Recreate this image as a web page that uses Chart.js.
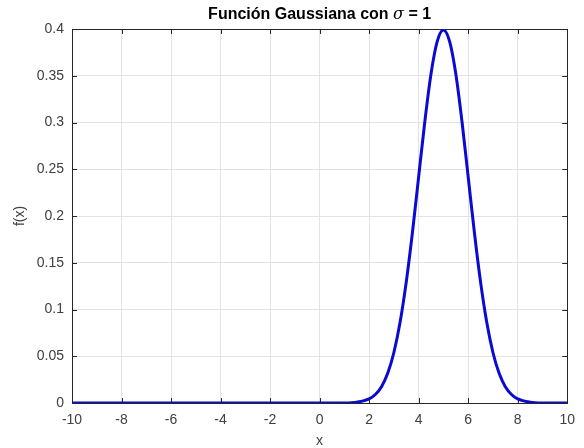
<!DOCTYPE html>
<html lang="es">
<head>
    <meta charset="UTF-8">
    <title>Función Gaussiana</title>
    <script src="https://cdn.jsdelivr.net/npm/chart.js"></script>
    <style>
        body { margin: 0; background: #ffffff; }
        #wrap { width: 584px; height: 448px; }
    </style>
</head>
<body>
    <div id="wrap"><canvas id="gauss" width="584" height="448"></canvas></div>

    <script>
        // valores
        const xValues = [-10, -8, -6, -4, -2, 0, 1, 1.5, 2, 2.25, 2.5, 2.75, 3, 3.25, 3.5, 3.75, 4, 4.25, 4.5, 4.75,
                         5, 5.25, 5.5, 5.75, 6, 6.25, 6.5, 6.75, 7, 7.25, 7.5, 7.75, 8, 8.5, 9, 10];
        const fValues = [0, 0, 0, 0, 0, 0, 0.0001, 0.0009, 0.0044, 0.0091, 0.0175, 0.0317, 0.054, 0.0863, 0.1295, 0.1826, 0.242, 0.3011, 0.3521, 0.3867,
                         0.3989, 0.3867, 0.3521, 0.3011, 0.242, 0.1826, 0.1295, 0.0863, 0.054, 0.0317, 0.0175, 0.0091, 0.0044, 0.0009, 0.0001, 0];
        const xTicks = [-10, -8, -6, -4, -2, 0, 2, 4, 6, 8, 10];
        const yTicks = [0, 0.05, 0.1, 0.15, 0.2, 0.25, 0.3, 0.35, 0.4];

        const axisColor = '#262626';
        const labelColor = '#404040';

        // caja y marcas hacia adentro (estilo MATLAB) + título con sigma en cursiva
        const matlabBox = {
            id: 'matlabBox',
            beforeDatasetsDraw(chart) {
                const { ctx, chartArea: a, scales } = chart;
                ctx.save();
                ctx.strokeStyle = axisColor;
                ctx.lineWidth = 1;
                ctx.beginPath();
                scales.x.ticks.forEach(t => {
                    const px = Math.round(scales.x.getPixelForValue(t.value)) + 0.5;
                    ctx.moveTo(px, a.bottom); ctx.lineTo(px, a.bottom - 5);
                    ctx.moveTo(px, a.top); ctx.lineTo(px, a.top + 5);
                });
                scales.y.ticks.forEach(t => {
                    const py = Math.round(scales.y.getPixelForValue(t.value)) + 0.5;
                    ctx.moveTo(a.left, py); ctx.lineTo(a.left + 5, py);
                    ctx.moveTo(a.right, py); ctx.lineTo(a.right - 5, py);
                });
                ctx.stroke();
                ctx.strokeRect(Math.round(a.left) + 0.5, Math.round(a.top) + 0.5,
                    Math.round(a.right - a.left), Math.round(a.bottom - a.top));
                ctx.restore();
            },
            afterDraw(chart) {
                const { ctx, chartArea: a } = chart;
                const parts = [
                    { text: 'Función Gaussiana con ', font: 'bold 16px "Liberation Sans", Arial, sans-serif' },
                    { text: 'σ', font: 'italic 16px "DejaVu Serif", serif' },
                    { text: ' = 1', font: 'bold 16px "Liberation Sans", Arial, sans-serif' }
                ];
                ctx.save();
                ctx.fillStyle = '#000000';
                ctx.textBaseline = 'middle';
                let total = 0;
                parts.forEach(p => { ctx.font = p.font; p.w = ctx.measureText(p.text).width; total += p.w; });
                let x = (a.left + a.right) / 2 - total / 2;
                parts.forEach(p => { ctx.font = p.font; ctx.fillText(p.text, x, 15); x += p.w; });
                ctx.restore();
            }
        };

        const tickFont = { family: '"Liberation Sans", Arial, sans-serif', size: 14 };

        new Chart(document.getElementById('gauss'), {
            type: 'line',
            data: {
                datasets: [{
                    data: xValues.map((x, i) => ({ x: x, y: fValues[i] })),
                    borderColor: '#0a0ad2',
                    borderWidth: 3,
                    pointRadius: 0,
                    fill: false,
                    cubicInterpolationMode: 'monotone'
                }]
            },
            options: {
                responsive: false,
                animation: false,
                layout: { padding: { top: 29, right: 8, left: 0, bottom: 0 } },
                plugins: { legend: { display: false }, tooltip: { enabled: false } },
                scales: {
                    x: {
                        type: 'linear',
                        min: -10, max: 10,
                        afterBuildTicks: s => { s.ticks = xTicks.map(v => ({ value: v })); },
                        afterFit: s => { s.height = 45; },
                        grid: { color: '#e3e3e3', drawTicks: false },
                        border: { display: false },
                        ticks: { font: tickFont, color: labelColor, padding: 9, maxRotation: 0, callback: v => String(v) },
                        title: { display: true, text: 'x', font: tickFont, color: labelColor, padding: { top: 0, bottom: -2 } }
                    },
                    y: {
                        min: 0, max: 0.4,
                        afterBuildTicks: s => { s.ticks = yTicks.map(v => ({ value: v })); },
                        afterFit: s => { s.width = 72; },
                        grid: { color: '#e3e3e3', drawTicks: false },
                        border: { display: false },
                        ticks: { font: tickFont, color: labelColor, padding: 8, callback: v => String(+v.toFixed(2)) },
                        title: { display: true, text: 'f(x)', font: tickFont, color: labelColor, padding: { top: 12, bottom: 0 } }
                    }
                }
            },
            plugins: [matlabBox]
        });
    </script>
</body>
</html>
